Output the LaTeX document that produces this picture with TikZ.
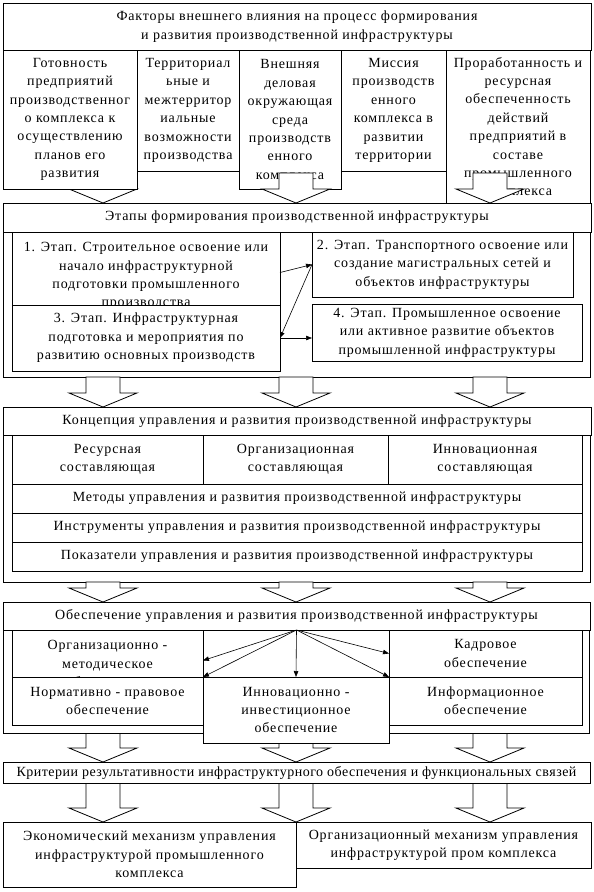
\documentclass[tikz,border=0pt]{standalone}
\usepackage{fontspec}
\setmainfont{Liberation Serif}
\newfontfamily\tf{Liberation Serif}[LetterSpace=6]
\newfontfamily\tfn{Liberation Serif}[LetterSpace=3.5]
\usetikzlibrary{arrows.meta}
\newcommand{\blkarrow}[3]{\draw[barrow] (#1-17,#2) -- (#1+17,#2) -- (#1+17,#3-14) -- (#1+34,#3-14) -- (#1,#3) -- (#1-34,#3-14) -- (#1-17,#3-14) -- cycle;}
\begin{document}
\begin{tikzpicture}[x=1pt, y=-1pt, line width=0.8pt,
  box/.style={draw, fill=white, anchor=north west, inner sep=0pt, outer sep=0pt, align=center, font=\tf\fontsize{14}{18.4}\selectfont},
  txt/.style={anchor=north, align=center, inner sep=0pt, font=\tf\fontsize{14}{18.4}\selectfont},
  barrow/.style={draw, fill=white, line join=miter},
  link/.style={-{Triangle[length=6pt,width=4.5pt]}, line width=0.6pt}]
\useasboundingbox (0,0) rectangle (594,892);
\blkarrow{103}{173}{203}
\node[box, minimum width=588pt, minimum height=47pt] (head) at (3,3) {Факторы внешнего влияния на процесс формирования\\и развития производственной инфраструктуры};
\node[box, minimum width=134pt, minimum height=139pt] (fac1) at (3,50) {Готовность\\предприятий\\производственног\\о комплекса к\\осуществлению\\планов его\\развития};
\node[box, minimum width=102pt, minimum height=121pt] (fac2) at (137,50) {Территориал\\ьные и\\межтерритор\\иальные\\возможности\\производства};
\node[box, minimum width=102pt, minimum height=139pt] (fac3) at (239,50) {Внешняя\\деловая\\окружающая\\среда\\производств\\енного\\комплекса};
\node[box, minimum width=105pt, minimum height=121pt] (fac4) at (341,50) {Миссия\\производств\\енного\\комплекса в\\развитии\\территории};
\node[box, minimum width=144pt, minimum height=153pt] (fac5) at (446,50) {Проработанность и\\ресурсная\\обеспеченность\\действий\\предприятий в\\составе\\промышленного\\комплекса};
\blkarrow{296}{173}{203}
\blkarrow{490}{173}{203}

\node[box, minimum width=587pt, minimum height=145pt] (etC) at (3,232) {};
\node[box, minimum width=588pt, minimum height=29pt] (etT) at (3,203) {Этапы формирования производственной инфраструктуры};
\node[box, minimum width=268pt, minimum height=73pt] (stg1) at (12,232) {};
\node[txt] (stg1t) at ([yshift=-10pt]stg1.north) {1. Этап. Строительное освоение или\\начало инфраструктурной\\подготовки промышленного\\производства};
\node[box, minimum width=261pt, minimum height=65pt] (stg2) at (312,232) {2. Этап. Транспортного освоение или\\создание магистральных сетей и\\объектов инфраструктуры};
\node[box, minimum width=268pt, minimum height=66pt] (stg3) at (12,305) {3. Этап. Инфраструктурная\\подготовка и мероприятия по\\развитию основных производств};
\node[box, minimum width=270pt, minimum height=57pt] (stg4) at (312,304) {4. Этап. Промышленное освоение\\или активное развитие объектов\\промышленной инфраструктуры};
\draw[link] ([yshift=-4pt]stg1.east) -- (stg2.west);
\draw[link] (stg2.west) -- (stg3.east);
\draw[link] (stg3.east) -- (stg3.east -| stg4.west);

\blkarrow{103}{377}{407}
\blkarrow{296}{377}{407}
\blkarrow{490}{377}{407}
\node[box, minimum width=587pt, minimum height=147pt] (koC) at (3,435) {};
\node[box, minimum width=588pt, minimum height=28pt] (koT) at (3,407) {Концепция управления и развития производственной инфраструктуры};
\node[box, minimum width=191pt, minimum height=49pt] (res) at (12,435) {Ресурсная\\составляющая};
\node[box, minimum width=185pt, minimum height=49pt] (org) at (203,435) {Организационная\\составляющая};
\node[box, minimum width=194pt, minimum height=49pt] (inn) at (388,435) {Инновационная\\составляющая};
\node[box, minimum width=570pt, minimum height=29pt] (met) at (12,484) {Методы управления и развития производственной инфраструктуры};
\node[box, minimum width=570pt, minimum height=29pt] (ins) at (12,513) {Инструменты управления и развития производственной инфраструктуры};
\node[box, minimum width=570pt, minimum height=29pt] (pok) at (12,542) {Показатели управления и развития производственной инфраструктуры};

\blkarrow{103}{582}{602}
\blkarrow{296}{582}{602}
\blkarrow{490}{582}{602}
\blkarrow{103}{733}{762}
\blkarrow{296}{733}{762}
\blkarrow{490}{733}{762}
\node[box, minimum width=586pt, minimum height=103pt] (obC) at (3,630) {};
\node[box, minimum width=587pt, minimum height=28pt] (obT) at (3,602) {Обеспечение управления и развития производственной инфраструктуры};
\node[box, minimum width=191pt, minimum height=47pt] (om) at (12,630) {};
\node[txt] (omt) at ([yshift=-10pt]om.north) {Организационно -\\методическое\\обеспечение};
\node[box, minimum width=191pt, minimum height=48pt] (np) at (12,677) {Нормативно - правовое\\обеспечение};
\node[box, minimum width=186pt, minimum height=66pt] (ii) at (203,677) {Инновационно -\\инвестиционное\\обеспечение};
\node[box, minimum width=193pt, minimum height=47pt] (kd) at (389,630) {Кадровое\\обеспечение};
\node[box, minimum width=193pt, minimum height=48pt] (inf) at (389,677) {Информационное\\обеспечение};
\draw[link] (obT.south) -- ([yshift=-7pt]om.east);
\draw[link] (obT.south) -- (om.south east);
\draw[link] (obT.south) -- (ii.north);
\draw[link] (obT.south) -- (kd.west);
\draw[link] (obT.south) -- (kd.south west);

\blkarrow{103}{783}{822}
\blkarrow{296}{783}{822}
\blkarrow{490}{783}{822}
\node[box, minimum width=587pt, minimum height=21pt, font=\tfn\fontsize{14}{18.4}\selectfont] (kr) at (3,762) {Критерии результативности инфраструктурного обеспечения и функциональных связей};
\node[box, minimum width=293pt, minimum height=65pt] (eco) at (3,822) {Экономический механизм управления\\инфраструктурой промышленного\\комплекса};
\node[box, minimum width=295pt, minimum height=46pt] (orm) at (296,822) {Организационный механизм управления\\инфраструктурой пром комплекса};
\end{tikzpicture}
\end{document}
